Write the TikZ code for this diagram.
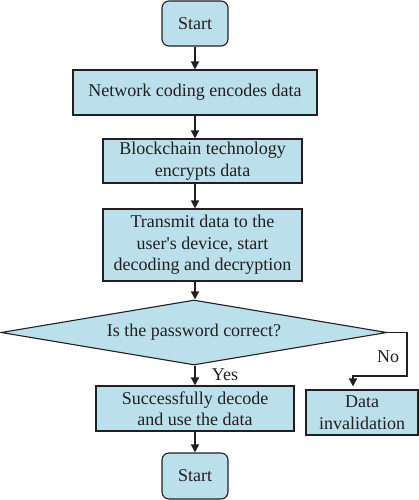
\documentclass[tikz,border=0pt]{standalone}
\usepackage{fontspec}
\setmainfont{Liberation Serif}
\usetikzlibrary{arrows.meta,shapes.geometric}
\definecolor{boxfill}{RGB}{187,224,235}
\definecolor{ink}{RGB}{35,31,32}
\begin{document}
\begin{tikzpicture}[x=1pt,y=-1pt,
 box/.style={draw=ink, fill=boxfill, line width=1.1pt, inner sep=0pt, align=center, text=ink, font=\fontsize{18}{21.5}\selectfont},
 term/.style={box, rounded corners=7pt},
 conn/.style={draw=ink, line width=1.5pt, -{Triangle[length=8pt,width=8pt]}},
 lab/.style={text=ink, font=\fontsize{18}{21.5}\selectfont, inner sep=0pt}]
\useasboundingbox (0,0) rectangle (419,500);
\node[term, minimum width=66pt, minimum height=45pt] (s1) at (195,23.5) {Start};
\node[box, minimum width=244pt, minimum height=45pt] (net) at (195,92.5) {Network coding encodes data};
\node[box, minimum width=199pt, minimum height=44pt] (blk) at (202.5,161) {Blockchain technology\\encrypts data};
\node[box, minimum width=199pt, minimum height=72pt] (tx) at (202.5,245) {Transmit data to the\\user\textquotesingle s device, start\\decoding and decryption};
\node[box, shape=diamond, minimum width=386pt, minimum height=65pt] (dec) at (194,332.5) {\makebox[0pt]{Is the password correct?}};
\node[box, minimum width=198pt, minimum height=45pt] (ok) at (195,408.5) {Successfully decode\\and use the data};
\node[box, minimum width=112pt, minimum height=45pt] (inv) at (362,412.5) {Data\\invalidation};
\node[term, minimum width=66pt, minimum height=46pt] (s2) at (195,476) {Start};
\coordinate (ax) at (195,0);
\coordinate (nr) at (407,376);
\coordinate (nl) at (353,376);
\draw[conn] (s1.south) -- (net.north);
\draw[conn] (net.south) -- (blk.north -| ax);
\draw[conn] (blk.south -| ax) -- (tx.north -| ax);
\draw[conn] (tx.south -| ax) -- (dec.north -| ax);
\draw[conn] (dec.south -| ax) -- (ok.north);
\draw[conn] (ok.south) -- (s2.north);
\draw[conn, shorten >=3pt] (dec.east) -| (nr) -- (nl) -- (inv.north -| nl);
\node[lab] (yes) at (225,375) {Yes};
\node[lab] (no) at (388,357) {No};
\end{tikzpicture}
\end{document}
